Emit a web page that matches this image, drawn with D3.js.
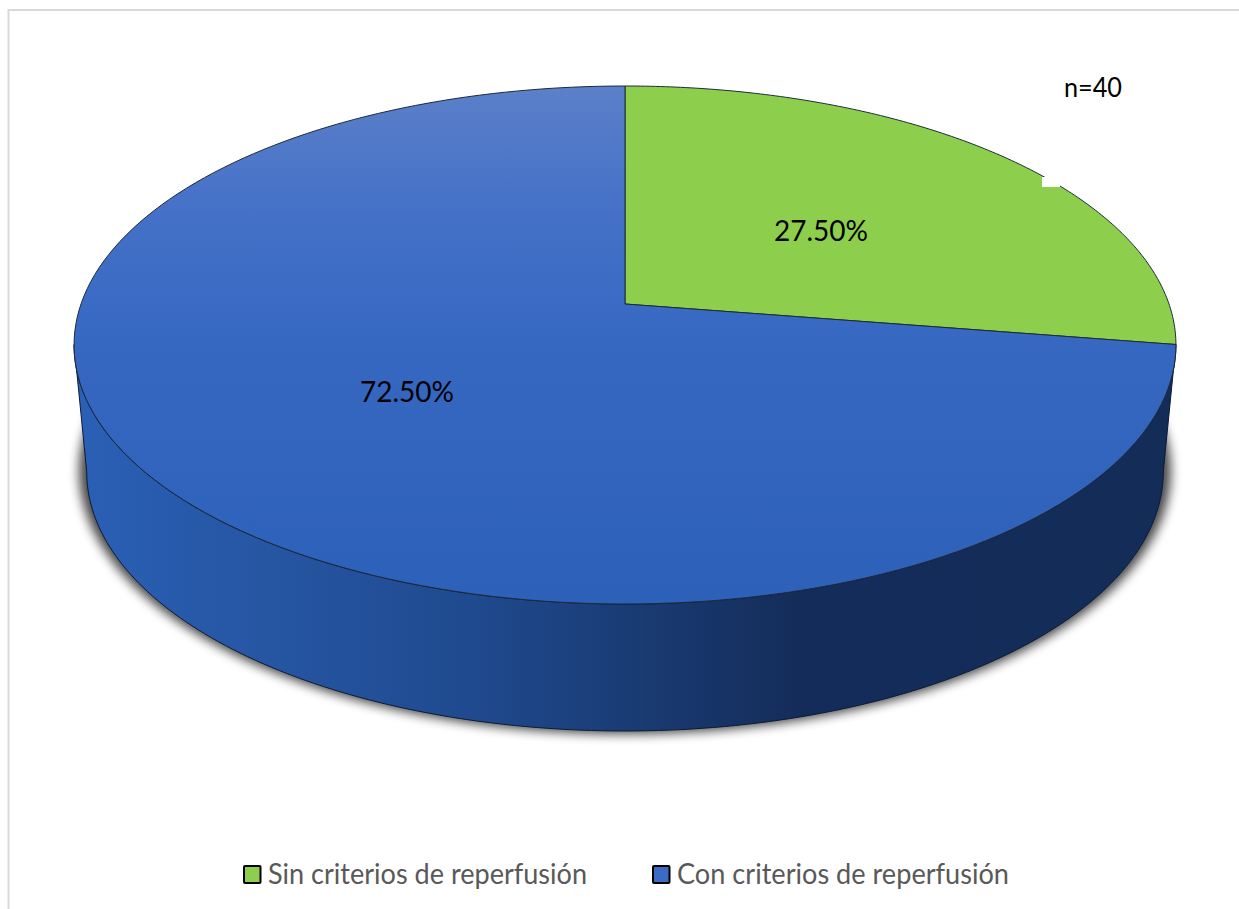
<!DOCTYPE html>
<html lang="es">
<head>
<meta charset="utf-8">
<title>Criterios de reperfusión</title>
<script src="https://cdn.jsdelivr.net/npm/d3@7/dist/d3.min.js"></script>
<style>
html,body{margin:0;padding:0;background:#fff;overflow:hidden}
svg{display:block}
text{font-family:Lato,"Open Sans",sans-serif}
</style>
</head>
<body>
<svg id="chart" width="1239" height="909"></svg>
<script>
// Series, in drawing order (clockwise from twelve o'clock)
const categories = ["Sin criterios de reperfusión", "Con criterios de reperfusión"];
const shares = [27.5, 72.5];
const shareLabels = ["27.50%", "72.50%"];
const sampleNote = "n=40";

const svg = d3.select("#chart");
const defs = svg.append("defs");

// Disc geometry: a circle seen in perspective, so the hub sits above the ellipse centre
const cx = 625, hubY = 304, farY = 86, nearY = 604, discR = 544;
const a = ((nearY + farY) / 2 - hubY) / (nearY - farY) * -2; // denominator slope
const b = nearY * (1 + a) - hubY;                            // numerator slope
function project(angle) {
  const u = Math.sin(angle), v = -Math.cos(angle);
  const w = 1 + a * v;
  return [cx + discR * u / w, (b * v + hubY) / w];
}

// Lower rim: the same circle, slightly narrower and pushed down by the disc's thickness
const rimScale = 0.977, rimDrop = 127;
const lowered = ([x, y]) => [cx + (x - cx) * rimScale, y + rimDrop];

const line = d3.line();
const pie = d3.pie().sort(null).value(d => d)(shares);
const arcPoints = (from, to, n = 160) => d3.range(n + 1).map(i => project(from + (to - from) * i / n));
const slicePath = s => line([[cx, hubY], ...arcPoints(s.startAngle, s.endAngle)]) + "Z";

// Gradients
const topGrad = defs.append("linearGradient").attr("id", "discBlue")
  .attr("gradientUnits", "userSpaceOnUse").attr("x1", 0).attr("x2", 0).attr("y1", farY).attr("y2", nearY);
[[0, "#5c80c9"], [0.22, "#4672c8"], [0.5, "#3668c2"], [1, "#2d60b8"]].forEach(([o, c]) =>
  topGrad.append("stop").attr("offset", o).attr("stop-color", c));

const wallGrad = defs.append("linearGradient").attr("id", "wallBlue")
  .attr("gradientUnits", "userSpaceOnUse").attr("x1", 74).attr("x2", 1176).attr("y1", 0).attr("y2", 0);
[[0, "#2a60b6"], [0.18, "#2655a2"], [0.36, "#1f4a8f"], [0.5, "#1a3c75"], [0.66, "#142c59"], [1, "#132c58"]]
  .forEach(([o, c]) => wallGrad.append("stop").attr("offset", o).attr("stop-color", c));

defs.append("filter").attr("id", "soft").attr("x", "-5%").attr("y", "-10%").attr("width", "110%").attr("height", "120%")
  .append("feGaussianBlur").attr("stdDeviation", 5.5);

// Chart frame (only the top and left edges fall inside the page)
svg.append("path").attr("d", "M8.5,909V10H1239").attr("fill", "none").attr("stroke", "#d9d9d9").attr("stroke-width", 2);

// Drop shadow under the lower rim
svg.append("ellipse")
  .attr("cx", cx).attr("cy", 471).attr("rx", 546).attr("ry", 263)
  .attr("fill", "#000").attr("opacity", 0.72).attr("filter", "url(#soft)");

// Side wall of the blue slice, from the right extreme round the front to the left extreme
const blue = pie[1];
const frontArc = arcPoints(blue.startAngle, 2 * Math.PI - blue.startAngle);
svg.append("path")
  .attr("d", line([...frontArc, ...frontArc.map(lowered).reverse()]) + "Z")
  .attr("fill", "url(#wallBlue)").attr("stroke", "#0d1a33").attr("stroke-width", 1).attr("stroke-linejoin", "round");

// Top face
const fills = ["#8dcf4c", "url(#discBlue)"];
svg.selectAll("path.slice").data(pie).join("path").attr("class", "slice")
  .attr("d", slicePath).attr("fill", (d, i) => fills[i])
  .attr("stroke", "#1d2b3a").attr("stroke-width", 1).attr("stroke-linejoin", "round");

// Small bite out of the green rim
svg.append("rect").attr("x", 1042).attr("y", 177).attr("width", 18).attr("height", 10).attr("fill", "#fff");

// Value labels
const labelSpots = [[821, 241], [407, 402]];
svg.selectAll("text.value").data(shareLabels).join("text").attr("class", "value")
  .attr("x", (d, i) => labelSpots[i][0]).attr("y", (d, i) => labelSpots[i][1])
  .attr("text-anchor", "middle").attr("font-size", 29).attr("textLength", 94)
  .attr("lengthAdjust", "spacingAndGlyphs").attr("fill", "#000").text(d => d);

svg.append("text").attr("x", 1093).attr("y", 97).attr("text-anchor", "middle")
  .attr("font-size", 27).attr("textLength", 58).attr("lengthAdjust", "spacingAndGlyphs")
  .attr("fill", "#000").text(sampleNote);

// Legend
const legendSpots = [{ box: 244, text: 268, w: 319 }, { box: 653, text: 677, w: 332 }];
const swatches = ["#8dcf4c", "#3a6cc6"];
const legend = svg.selectAll("g.key").data(categories).join("g").attr("class", "key");
legend.append("rect")
  .attr("x", (d, i) => legendSpots[i].box).attr("y", 866).attr("width", 16.5).attr("height", 17).attr("rx", 1)
  .attr("fill", (d, i) => swatches[i]).attr("stroke", "#000").attr("stroke-width", 2);
legend.append("text")
  .attr("x", (d, i) => legendSpots[i].text).attr("y", 884)
  .attr("font-size", 28).attr("fill", "#595959")
  .attr("textLength", (d, i) => legendSpots[i].w).attr("lengthAdjust", "spacingAndGlyphs").text(d => d);
</script>
</body>
</html>
